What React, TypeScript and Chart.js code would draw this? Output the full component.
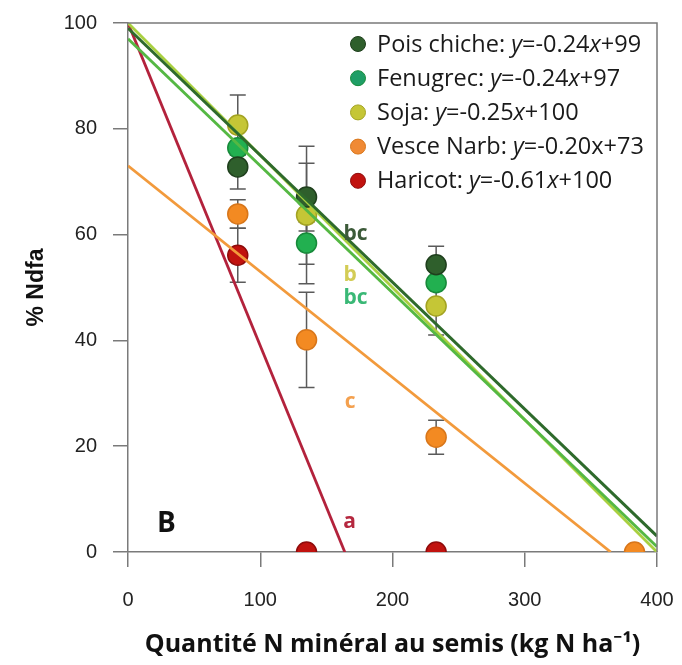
import { useEffect, useRef } from "react";
import { Chart, registerables } from "chart.js";

Chart.register(...registerables);

// Species, regression coefficients (from the legend equations) and colours
const speciesNames = ["Pois chiche", "Fenugrec", "Soja", "Vesce Narb", "Haricot"];
const slopes = [-0.24, -0.24, -0.25, -0.2, -0.61];
const intercepts = [99, 97, 100, 73, 100];
const italicX = [true, true, true, false, true];
const pointFill = ["#2f5f2c", "#22b050", "#c5c636", "#f38a22", "#c1120f"];
const pointEdge = ["#1f3f1d", "#178a3a", "#a3a322", "#d8761a", "#8f0b0b"];
const legendFill = ["#2f5f2c", "#1f9e66", "#c5c636", "#f08a35", "#c1120f"];
const lineColors = ["#2e6a2c", "#55b843", "#a9d040", "#f29a3c", "#b3223c"];

// Mean % Ndfa per N dose, with error half-widths
const poisX = [83, 135, 233];
const poisY = [72.8, 67.1, 54.3];
const poisErr = [4.2, 6.4, 3.5];

const fenuX = [83, 135, 233];
const fenuY = [76.4, 58.4, 50.9];
const fenuErr = [0, 4, 0];

const sojaX = [83, 135, 233];
const sojaY = [80.7, 63.7, 46.5];
const sojaErr = [5.7, 13, 5.5];

const vesceX = [83, 135, 233, 383];
const vesceY = [63.9, 40.1, 21.7, 0];
const vesceErr = [2.7, 9, 3.2, 0];

const haricotX = [83, 135, 233];
const haricotY = [56.1, 0, 0];
const haricotErr = [5.1, 0, 0];

// Regression lines are drawn from x = 0 to the axis end or to y = 0
const lineStartX = [0, 0, 0, 0, 0];
const lineEndX = [400, 400, 400, 365, 164];

// Letter groups written next to the lines
const groupLetters = ["bc", "b", "bc", "c", "a"];
const groupX = [172, 168, 172, 168, 167.5];
const groupY = [60.1, 52.4, 48, 28.4, 5.7];
const groupColors = ["#3c5a39", "#d3cc55", "#3ab876", "#f4a04e", "#b5283f"];

const pointsX = [poisX, fenuX, sojaX, vesceX, haricotX];
const pointsY = [poisY, fenuY, sojaY, vesceY, haricotY];
const pointsErr = [poisErr, fenuErr, sojaErr, vesceErr, haricotErr];

const xTicks = [0, 100, 200, 300, 400];
const yTicks = [0, 20, 40, 60, 80, 100];

const SANS = "'Liberation Sans', Arial, sans-serif";
const BODY = "'Open Sans', 'Noto Sans', sans-serif";

const errorBarPlugin = {
  id: "errorBars",
  beforeDatasetsDraw(chart: any) {
    const { ctx, scales } = chart;
    const xs = scales.x;
    const ys = scales.y;
    ctx.save();
    ctx.strokeStyle = "#5a5a5a";
    ctx.lineWidth = 1.5;
    pointsX.forEach((xArr, s) => {
      xArr.forEach((xv, i) => {
        const e = pointsErr[s][i];
        if (!e) return;
        const px = xs.getPixelForValue(xv);
        const top = ys.getPixelForValue(pointsY[s][i] + e);
        const bot = ys.getPixelForValue(pointsY[s][i] - e);
        ctx.beginPath();
        ctx.moveTo(px, top);
        ctx.lineTo(px, bot);
        ctx.moveTo(px - 8, top);
        ctx.lineTo(px + 8, top);
        ctx.moveTo(px - 8, bot);
        ctx.lineTo(px + 8, bot);
        ctx.stroke();
      });
    });
    ctx.restore();
  },
};

const decorPlugin = {
  id: "decor",
  afterDatasetsDraw(chart: any) {
    const { ctx, chartArea, scales } = chart;
    const xs = scales.x;
    const ys = scales.y;
    ctx.save();
    // top and right frame
    ctx.strokeStyle = "#7a7a7a";
    ctx.lineWidth = 1.5;
    ctx.beginPath();
    ctx.moveTo(chartArea.left, chartArea.top);
    ctx.lineTo(chartArea.right, chartArea.top);
    ctx.lineTo(chartArea.right, chartArea.bottom);
    ctx.stroke();

    // group letters
    ctx.textAlign = "center";
    ctx.textBaseline = "middle";
    ctx.font = `bold 21px ${BODY}`;
    groupLetters.forEach((t, i) => {
      ctx.fillStyle = groupColors[i];
      ctx.fillText(t, xs.getPixelForValue(groupX[i]), ys.getPixelForValue(groupY[i]));
    });

    // panel letter
    ctx.fillStyle = "#111";
    ctx.font = `bold 28px ${BODY}`;
    ctx.fillText("B", xs.getPixelForValue(29), ys.getPixelForValue(5.3));

    // legend
    const lx = 358;
    const ly0 = 44;
    const step = 34.2;
    speciesNames.forEach((name, i) => {
      const y = ly0 + i * step;
      ctx.beginPath();
      ctx.arc(lx, y, 7.5, 0, Math.PI * 2);
      ctx.fillStyle = legendFill[i];
      ctx.fill();
      ctx.lineWidth = 1;
      ctx.strokeStyle = pointEdge[i];
      ctx.stroke();
      const parts: [string, boolean][] = [
        [`${name}: `, false],
        ["y", true],
        [`=${slopes[i].toFixed(2)}`, false],
        ["x", italicX[i]],
        [`+${intercepts[i]}`, false],
      ];
      let x = lx + 19;
      ctx.textAlign = "left";
      ctx.fillStyle = "#1a1a1a";
      parts.forEach(([txt, it]) => {
        ctx.font = `${it ? "italic " : ""}23.5px ${BODY}`;
        ctx.fillText(txt, x, y + 1);
        x += ctx.measureText(txt).width;
      });
    });
    ctx.restore();
  },
};

export default function App() {
  const canvasRef = useRef<HTMLCanvasElement | null>(null);

  useEffect(() => {
    const canvas = canvasRef.current;
    if (!canvas) return;

    const pointSets = speciesNames.map((name, s) => ({
      type: "scatter" as const,
      label: name,
      data: pointsX[s].map((x, i) => ({ x, y: pointsY[s][i] })),
      backgroundColor: pointFill[s],
      borderColor: pointEdge[s],
      borderWidth: 1.5,
      pointRadius: 10,
      order: 2,
    }));

    const lineSets = speciesNames.map((name, s) => ({
      type: "line" as const,
      label: `${name} fit`,
      data: [lineStartX[s], lineEndX[s]].map((x) => ({ x, y: slopes[s] * x + intercepts[s] })),
      borderColor: lineColors[s],
      borderWidth: s === 0 ? 3 : 2.8,
      pointRadius: 0,
      fill: false,
      order: 1,
    }));

    const chart = new Chart(canvas, {
      type: "scatter",
      data: { datasets: [...pointSets, ...lineSets] as any },
      options: {
        animation: false,
        responsive: true,
        maintainAspectRatio: false,
        layout: { padding: { top: 23, right: 25, left: 0, bottom: 0 } },
        plugins: { legend: { display: false }, tooltip: { enabled: false } },
        scales: {
          x: {
            type: "linear",
            min: 0,
            max: 400,
            afterBuildTicks: (scale: any) => {
              scale.ticks = xTicks.map((value) => ({ value }));
            },
            afterFit: (scale: any) => {
              scale.height = 113;
              scale.paddingLeft = 0;
              scale.paddingRight = 0;
            },
            ticks: { font: { family: SANS, size: 20 }, color: "#222", padding: 21, maxRotation: 0 },
            grid: { drawOnChartArea: false, drawTicks: true, tickLength: 15, color: "#7a7a7a", lineWidth: 1.5 },
            border: { display: true, color: "#7a7a7a", width: 1.5 },
            title: {
              display: true,
              text: "Quantité N minéral au semis (kg N ha⁻¹)",
              font: { family: BODY, size: 25, weight: "bold" },
              color: "#111",
              padding: { top: 0, bottom: 5 },
            },
          },
          y: {
            type: "linear",
            min: 0,
            max: 100,
            afterBuildTicks: (scale: any) => {
              scale.ticks = yTicks.map((value) => ({ value }));
            },
            afterFit: (scale: any) => {
              scale.width = 128;
              scale.paddingTop = 0;
              scale.paddingBottom = 0;
            },
            ticks: { font: { family: SANS, size: 20 }, color: "#222", padding: 16 },
            grid: { drawOnChartArea: false, drawTicks: true, tickLength: 15, color: "#7a7a7a", lineWidth: 1.5 },
            border: { display: true, color: "#7a7a7a", width: 1.5 },
            title: {
              display: true,
              text: "% Ndfa",
              font: { family: SANS, size: 23, weight: "bold" },
              color: "#111",
              padding: { top: 23, bottom: 0 },
            },
          },
        },
      },
      plugins: [errorBarPlugin, decorPlugin],
    });

    return () => chart.destroy();
  }, []);

  return (
    <div style={{ position: "fixed", left: 0, top: 0, width: 682, height: 665, background: "#fff" }}>
      <canvas ref={canvasRef} />
    </div>
  );
}
